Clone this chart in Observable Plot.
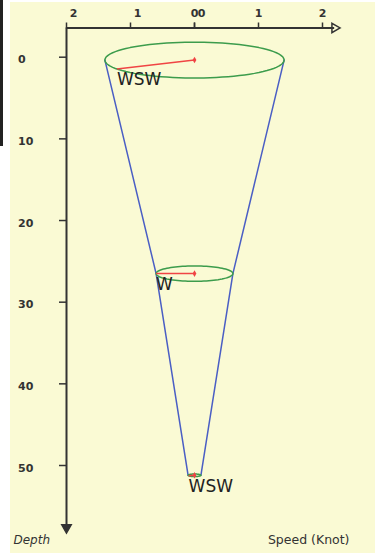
<!DOCTYPE html>
<html>
<head>
<meta charset="utf-8">
<script src="https://cdn.jsdelivr.net/npm/d3@7"></script>
<script src="https://cdn.jsdelivr.net/npm/@observablehq/plot@0.6"></script>
<style>
  html, body { margin: 0; padding: 0; background: #ffffff; }
  #wrap { position: relative; width: 375px; height: 557px; overflow: hidden; }
  #bg { position: absolute; left: 10px; top: 2px; width: 365px; height: 551px; background: #fafad4; }
  #strip { position: absolute; left: 0; top: 0; width: 3px; height: 146px; background: #222; }
  #chart { position: absolute; left: 0; top: 0; }
</style>
</head>
<body>
<div id="wrap"><div id="bg"></div><div id="strip"></div><div id="chart"></div></div>
<script>
// ---- data ----
const depths = [0.35, 26.5, 51.2];          // layer depth
const speeds = [1.4, 0.6, 0.1];             // current speed (knot)
const directions = [240, 270, 247.5];       // direction (degrees, compass)
const dirLabels = ["WSW", "W", "WSW"];
const xTicksLeft = [-2, -1, 0];
const xTicksRight = [0, 1, 2];
const yTicks = [0, 10, 20, 30, 40, 50];

// ---- layout constants ----
const W = 375, H = 557;
const xDomain = [-2, 2], xRange = [66, 322];
const yDomain = [0, 50], yRange = [56.7, 465];
const xAxisEnd = 2.19, depthTop = -3.58, depthEnd = 57.6;
const tiltPx = 0.2; // ellipse vertical / horizontal ratio in pixels
const pxPerKnot = (xRange[1] - xRange[0]) / (xDomain[1] - xDomain[0]);
const pxPerDepth = (yRange[1] - yRange[0]) / (yDomain[1] - yDomain[0]);
const tilt = tiltPx * pxPerKnot / pxPerDepth; // depth units per knot (north component)

const layers = depths.map((d, i) => {
  const a = directions[i] * Math.PI / 180;
  const s = speeds[i];
  return {
    depth: d, speed: s, label: dirLabels[i],
    tipX: s * Math.sin(a),
    tipY: d - s * Math.cos(a) * tilt
  };
});

const ellipse = [];
layers.forEach((L, i) => {
  for (let t = 0; t < 360; t += 4) {
    const r = t * Math.PI / 180;
    ellipse.push({layer: i, x: L.speed * Math.cos(r), y: L.depth - L.speed * Math.sin(r) * tilt});
  }
});

const axisColor = "#333";
const font = "DejaVu Sans, Verdana, sans-serif";

const chart = Plot.plot({
  width: W, height: H,
  marginLeft: 66, marginTop: 27.5, marginRight: W - 335, marginBottom: H - 530,
  style: {background: "transparent", fontFamily: font, overflow: "visible"},
  x: {domain: xDomain, range: xRange, axis: null},
  y: {domain: yDomain, range: yRange, axis: null},
  marks: [
    // cone sides
    Plot.line(layers, {x: d => -d.speed, y: "depth", stroke: "#4a5ec4", strokeWidth: 1.5}),
    Plot.line(layers, {x: d => d.speed, y: "depth", stroke: "#4a5ec4", strokeWidth: 1.5}),
    // speed ellipses
    Plot.line(ellipse, {x: "x", y: "y", z: "layer", curve: "linear-closed", stroke: "#3c9c4c", strokeWidth: 1.5}),
    // direction arrows
    Plot.link(layers, {x1: () => 0, y1: "depth", x2: "tipX", y2: "tipY", stroke: "#f04444", strokeWidth: 1.5}),
    Plot.dot(layers, {x: () => 0, y: "depth", r: 2, fill: "#f04444", symbol: "diamond"}),
    Plot.text(layers, {x: "tipX", y: "tipY", text: "label", textAnchor: "start", lineAnchor: "top", dy: 4, fontSize: 17, fill: "#222"}),
    // axes
    Plot.ruleY([depthTop], {x1: -2, x2: xAxisEnd, stroke: axisColor, strokeWidth: 2}),
    Plot.ruleX([-2], {y1: depthTop, y2: depthEnd, stroke: axisColor, strokeWidth: 2}),
    Plot.dot([0], {x: () => xAxisEnd, y: () => depthTop, symbol: "triangle", rotate: 90, r: 3.5, stroke: axisColor, strokeWidth: 1.5, fill: "none"}),
    Plot.dot([0], {x: () => -2, y: () => depthEnd, symbol: "triangle", rotate: 180, r: 3.5, stroke: axisColor, strokeWidth: 1.5, fill: axisColor}),
    Plot.axisX([...xTicksLeft, ...xTicksRight], {anchor: "top", tickSize: 6, tickFormat: () => "", stroke: axisColor, strokeWidth: 1.5}),
    Plot.axisY(yTicks, {anchor: "left", tickSize: 7, tickFormat: () => "", stroke: axisColor, strokeWidth: 1.5}),
    Plot.text(xTicksLeft, {x: d => d, text: d => Math.abs(d), frameAnchor: "top", dx: 7, dy: -14.5, lineAnchor: "middle", fontSize: 11, fontWeight: "bold", fill: axisColor}),
    Plot.text(xTicksRight, {x: d => d, text: d => Math.abs(d), frameAnchor: "top", dx: 0, dy: -14.5, lineAnchor: "middle", fontSize: 11, fontWeight: "bold", fill: axisColor}),
    Plot.text(yTicks, {y: d => d, text: d => String(d), frameAnchor: "left", dx: -48.5, dy: 2.5, textAnchor: "start", fontSize: 11, fontWeight: "bold", fill: axisColor}),
    Plot.text(["Depth"], {text: d => d, frameAnchor: "bottom-left", dx: -53, dy: 13, textAnchor: "start", fontSize: 12, fontStyle: "italic", fill: axisColor}),
    Plot.text(["Speed (Knot)"], {text: d => d, frameAnchor: "bottom-right", dx: 14, dy: 13, textAnchor: "end", fontSize: 12.5, fill: axisColor})
  ]
});
document.getElementById("chart").appendChild(chart);
</script>
</body>
</html>
